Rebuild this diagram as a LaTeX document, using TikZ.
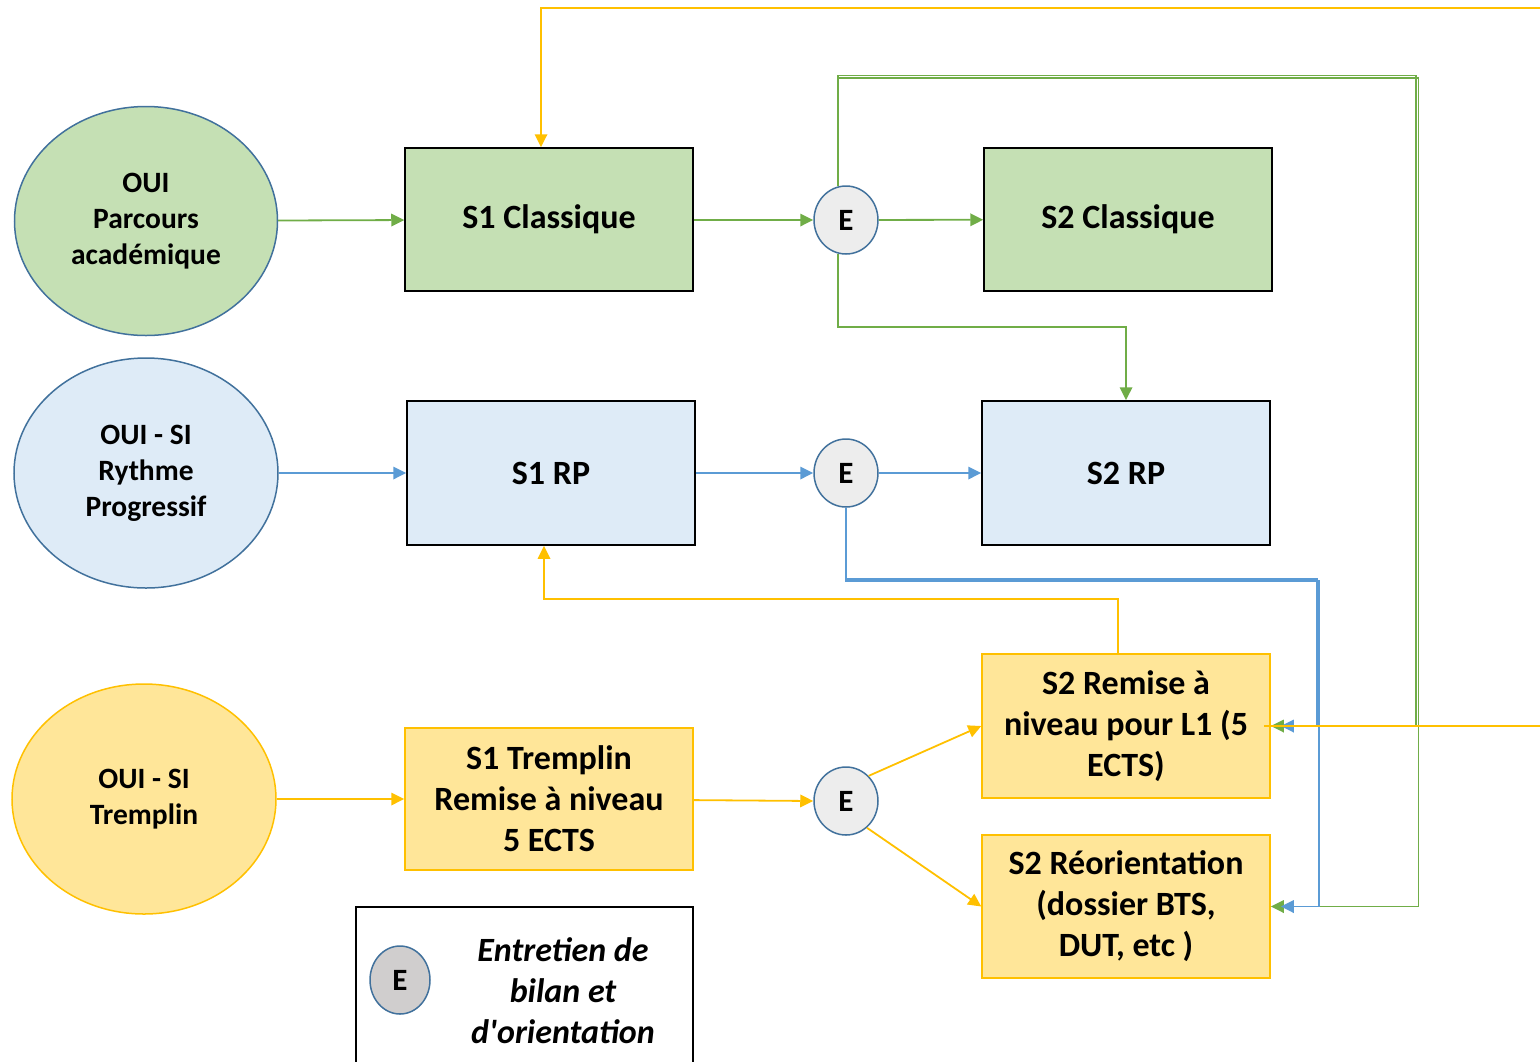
\documentclass[tikz,border=0pt]{standalone}
\usepackage{fontspec}
\setmainfont{Carlito}
\usetikzlibrary{arrows.meta,shapes.geometric}
\definecolor{gfill}{HTML}{C5E0B4}
\definecolor{bfill}{HTML}{DEEBF7}
\definecolor{yfill}{HTML}{FFE699}
\definecolor{gline}{HTML}{70AD47}
\definecolor{bline}{HTML}{5B9BD5}
\definecolor{yline}{HTML}{FFC000}
\definecolor{eborder}{HTML}{41719C}
\definecolor{efill}{HTML}{EDEDED}
\definecolor{lfill}{HTML}{D0CECE}
\tikzset{
  box/.style={draw=black, line width=1.5pt, minimum width=288pt, minimum height=143pt, inner sep=0pt, align=center,
    font=\bfseries\fontsize{34}{41}\selectfont},
  ybox/.style={box, draw=yline, fill=yfill},
  oval/.style={ellipse, line width=1.5pt, inner sep=0pt, minimum width=263pt, minimum height=229pt, align=center,
    font=\bfseries\fontsize{29.5}{36}\selectfont},
  ecirc/.style={ellipse, draw=eborder, fill=efill, line width=1.5pt, minimum width=64pt, minimum height=68pt, inner sep=0pt,
    font=\bfseries\fontsize{31}{36}\selectfont},
  tip/.style={-{Triangle[length=13pt,width=12.5pt]}},
  gcon/.style={draw=gline, line width=1.8pt, tip},
  bcon/.style={draw=bline, line width=1.8pt, tip},
  ycon/.style={draw=yline, line width=1.8pt, tip},
}
\begin{document}
\begin{tikzpicture}[x=1pt,y=-1pt]
\useasboundingbox (0,0) rectangle (1540,1061);
% ovals
\node[oval, draw=eborder, fill=gfill] (o1) at (146,221) {OUI\\Parcours\\académique};
\node[oval, draw=eborder, fill=bfill, minimum width=264pt, minimum height=230pt] (o2) at (146,473) {OUI - SI\\Rythme\\Progressif};
\node[oval, draw=yline, fill=yfill, minimum width=264pt, minimum height=230pt] (o3) at (144,799) {OUI - SI\\Tremplin};
% boxes
\node[box, fill=gfill] (s1c) at (549,219.5) {S1 Classique};
\node[box, fill=gfill] (s2c) at (1128,219.5) {S2 Classique};
\node[box, fill=bfill, minimum height=144pt] (rp1) at (551,473) {S1 RP};
\node[box, fill=bfill, minimum height=144pt] (rp2) at (1126,473) {S2 RP};
\node[ybox, minimum height=142pt] (t1) at (549,799) {S1 Tremplin\\Remise à niveau\\5 ECTS};
\node[ybox, minimum height=144pt] (remise) at (1126,726) {S2 Remise à\\niveau pour L1 (5\\ECTS)};
\node[ybox] (reo) at (1126,906.5) {S2 Réorientation\\(dossier BTS,\\DUT, etc )};
% E circles
\node[ecirc] (e1) at (846,220) {E};
\node[ecirc] (e2) at (846,473) {E};
\node[ecirc] (e3) at (846,801) {E};
% legend
\node[draw=black, line width=1.5pt, minimum width=337pt, minimum height=170pt, inner sep=0pt] (legend) at (524.5,992) {};
\node[ecirc, fill=lfill, minimum width=60pt] (le) at (400,980) {E};
\node[align=center, font=\bfseries\itshape\fontsize{34}{41}\selectfont\addfontfeatures{Ligatures=TeXOff}] (ltext) at (563,991) {Entretien de\\bilan et\\d'orientation};
% free ends
\coordinate (ytop) at (1545,8);
\coordinate (ymid) at (1545,726);
% green
\draw[gcon] (o1) -- (s1c);
\draw[gcon] (s1c.east |- e1.west) -- (e1.west);
\draw[gcon] (e1) -- (s2c);
\draw[gcon] (e1.257) -- ++(0,73) -| (rp2.north);
\draw[gcon] (e1.103) |- (1416,75.5) |- (remise.east);
\draw[gcon] (e1.103) |- (1418.5,78) |- (reo.east);
% blue
\draw[bcon] (o2) -- (rp1);
\draw[bcon] (rp1) -- (e2);
\draw[bcon] (e2) -- (rp2);
\draw[bcon, shorten >=10pt] (e2.south) |- (1317,579) |- (remise.east);
\draw[bcon, shorten >=10pt] (e2.south) |- (1319,581) |- (reo.east);
% yellow
\draw[ycon] (o3) -- (t1);
\draw[ycon] (t1) -- (e3.west);
\draw[ycon] (e3.48) -- (remise.west);
\draw[ycon] (e3.-52) -- (reo.west);
\draw[ycon] ([xshift=-8pt]remise.north) -- ++(0,-54) -| ([xshift=-7pt]rp1.south);
\draw[ycon] (ytop) -| ([xshift=-8pt]s1c.north);
\draw[draw=yline, line width=1.8pt] (ymid) -- ([xshift=-7pt]remise.east);
\end{tikzpicture}
\end{document}
